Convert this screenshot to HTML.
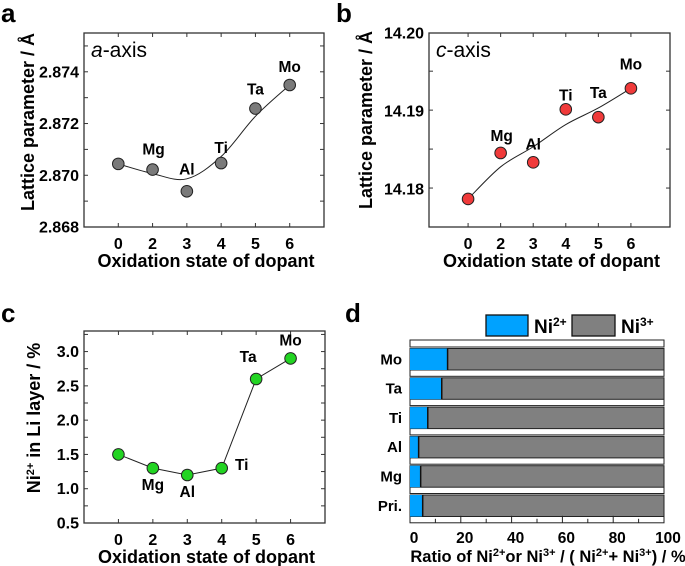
<!DOCTYPE html>
<html><head><meta charset="utf-8">
<style>
body{margin:0;background:#fff}
svg{display:block;font-family:"Liberation Sans",Arial,sans-serif;font-weight:bold}
</style></head>
<body>
<svg id="fig" width="685" height="566" viewBox="0 0 685 566" xmlns="http://www.w3.org/2000/svg"></svg>
<script>
const dopants = ["Pri.","Mg","Al","Ti","Ta","Mo"];
const xTickLabels = ["0","2","3","4","5","6"];
const aValues = [2.87044,2.87022,2.86938,2.87047,2.87258,2.87349];
const aTicks = [2.868,2.870,2.872,2.874];
const bValues = [14.1787,14.1846,14.1834,14.1902,14.1892,14.1929];
const bTicks = [14.18,14.19,14.20];
const cValues = [1.5,1.3,1.2,1.3,2.6,2.9];
const cTicks = [0.5,1.0,1.5,2.0,2.5,3.0];
const dCategories = ["Mo","Ta","Ti","Al","Mg","Pri."];
const dNi2 = [14.8,12.5,7.0,3.4,4.2,5.0];
const dTicks = [0,20,40,60,80,100];

const NS="http://www.w3.org/2000/svg";
const svg=document.getElementById('fig');
function el(tag,attrs,parent,text){
  const e=document.createElementNS(NS,tag);
  for(const k in attrs)e.setAttribute(k,attrs[k]);
  if(text!==undefined)e.textContent=text;
  (parent||svg).appendChild(e);return e;
}
function lin(d0,d1,r0,r1){return v=>r0+(v-d0)/(d1-d0)*(r1-r0);}
function smoothPath(pts){
  let d=`M${pts[0][0]},${pts[0][1]}`;
  for(let i=0;i<pts.length-1;i++){
    const p0=pts[Math.max(0,i-1)],p1=pts[i],p2=pts[i+1],p3=pts[Math.min(pts.length-1,i+2)];
    const c1=[p1[0]+(p2[0]-p0[0])/6,p1[1]+(p2[1]-p0[1])/6];
    const c2=[p2[0]-(p3[0]-p1[0])/6,p2[1]-(p3[1]-p1[1])/6];
    d+=` C${c1[0]},${c1[1]} ${c2[0]},${c2[1]} ${p2[0]},${p2[1]}`;
  }
  return d;
}
function smoothVals(v,w){return v.map((y,i)=>(i==0||i==v.length-1)?y:(w/2)*v[i-1]+(1-w)*y+(w/2)*v[i+1]);}

function linePanel(o){
  const g=el('g',{});
  
  
  const x=lin(o.xd[0],o.xd[1],o.box[0],o.box[2]);
  const y=lin(o.yd[0],o.yd[1],o.box[3],o.box[1]);
  const frame=el('rect',{x:o.box[0],y:o.box[1],width:o.box[2]-o.box[0],height:o.box[3]-o.box[1],fill:'none',stroke:'#333','stroke-width':1.3},g);
  
  for(let v=o.yd[0];v<=o.yd[1]+1e-9;v+=o.minor){
    const yy=y(v);
    el('line',{x1:o.box[0],x2:o.box[0]+4,y1:yy,y2:yy,stroke:'#333','stroke-width':1},g);
    el('line',{x1:o.box[2],x2:o.box[2]-4,y1:yy,y2:yy,stroke:'#333','stroke-width':1},g);
  }
  o.ticks.forEach(v=>{
    const t=el('text',{x:o.box[0]-5,y:y(v)+5.5,'text-anchor':'end','font-size':16},g,v.toFixed(o.dec));
    
  });
  xTickLabels.forEach((lab,i)=>{
    const xx=x(i);
    el('line',{x1:xx,x2:xx,y1:o.box[3],y2:o.box[3]-4,stroke:'#333'},g);
    el('line',{x1:xx,x2:xx,y1:o.box[1],y2:o.box[1]+4,stroke:'#333'},g);
    const t=el('text',{x:xx,y:o.box[3]+22,'text-anchor':'middle','font-size':16},g,lab);
    
  });
  const xt=el('text',{x:(o.box[0]+o.box[2])/2+2,y:o.box[3]+40,'text-anchor':'middle','font-size':18},g,'Oxidation state of dopant');
  
  const yt=el('text',{transform:`translate(${o.ytx},${o.yty}) rotate(-90)`,'text-anchor':'middle','font-size':18},g);
  
  yt.innerHTML=o.ytitle;
  const pts=o.vals.map((v,i)=>[x(i),y(v)]);
  const line=el('path',{d:o.smooth?smoothPath(smoothVals(o.vals,o.smooth).map((v,i)=>[x(i),y(v)])):'M'+pts.map(p=>p.join(',')).join(' L'),fill:'none',stroke:'#222','stroke-width':1},g);
  
  pts.forEach((p,i)=>{
    const c=el('circle',{cx:p[0],cy:p[1],r:5.8,fill:o.color,stroke:'#222','stroke-width':1},g);
    
    
    if(i>0){
      const off=o.lab[i]||[0,-12];
      const t=el('text',{x:p[0]+off[0],y:p[1]+off[1],'text-anchor':'middle','font-size':15.5},g,dopants[i]);
      
    }
  });
  if(o.tag){
    const t=el('text',{x:o.box[0]+7,y:o.box[1]+24,'font-size':21,'font-weight':'normal'},g);
    
    t.innerHTML=`<tspan font-style="italic">${o.tag}</tspan>-axis`;
  }
  const L=el('text',{x:o.letter[0],y:o.letter[1],'font-size':26},g,o.letterText);
  
}

linePanel({name:'panel-a',box:[84,33,324,227],xd:[-1,6],yd:[2.868,2.8755],minor:0.001,ticks:aTicks,dec:3,vals:aValues,smooth:0.5,color:'#7a7a7a',
  ytitle:'Lattice parameter / Å',ytx:34,yty:122,tag:'a',letter:[1,22],letterText:'a',
  lab:[[0,0],[1,-15],[0,-17],[0,-10],[0,-14],[0,-13]]});
linePanel({name:'panel-b',box:[429,33,670,227],xd:[-1.2,6.2],yd:[14.1751,14.2],minor:0.005,ticks:bTicks,dec:2,vals:bValues,smooth:0.5,color:'#f03a3a',
  ytitle:'Lattice parameter / Å',ytx:372,yty:120,tag:'c',letter:[336,22],letterText:'b',
  lab:[[0,0],[1,-12],[0,-13],[0,-9],[0,-19],[0,-19]]});
linePanel({name:'panel-c',box:[84,331,325,523],xd:[-1,6],yd:[0.5,3.3],minor:0.25,ticks:cTicks,dec:1,vals:cValues,smooth:0,color:'#22d422',
  ytitle:'Ni<tspan baseline-shift="super" font-size="11">2+</tspan> in Li layer / %',ytx:40,yty:418,letter:[1,322],letterText:'c',
  lab:[[0,0],[0,22],[0,22],[20,2],[-8,-17],[0,-13]]});

(function(){
  const g=el('g',{});
  
  const x0=410,x1=664,top=340,period=29.3;
  const x=lin(0,100,x0,x1);
  for(let i=0;i<=dCategories.length;i++){
    const wy=top+i*period;
    const w=el('rect',{x:x0,y:wy,width:x1-x0,height:7,fill:'#fff',stroke:'#222','stroke-width':1},g);
    
  }
  dCategories.forEach((c,i)=>{
    const by=top+i*period+8.5,bh=21.5;
    const gr=el('rect',{x:x0,y:by,width:x(100)-x0,height:bh,fill:'#808080',stroke:'#222','stroke-width':1},g);
    
    const bl=el('rect',{x:x0,y:by,width:x(dNi2[i])-x0,height:bh,fill:'#00a2ff',stroke:'none'},g);
    
    el('line',{x1:x(dNi2[i]),x2:x(dNi2[i]),y1:by,y2:by+bh,stroke:'#111','stroke-width':1.5},g);
    const t=el('text',{x:402,y:by+bh/2+5,'text-anchor':'end','font-size':15},g,c);
    
  });
  const bottom=top+dCategories.length*period+7;
  for(let v=10;v<100;v+=10){
    el('line',{x1:x(v),x2:x(v),y1:bottom,y2:bottom-(v%20==0?7:4),stroke:'#222'},g);
  }
  dTicks.forEach(v=>{
    const t=el('text',{x:x(v)+4,y:bottom+20,'text-anchor':'middle','font-size':15.5},g,String(v));
    
  });
  const xt=el('text',{x:548,y:bottom+39,'text-anchor':'middle','font-size':16.5},g);
  
  xt.innerHTML='Ratio of Ni<tspan baseline-shift="super" font-size="11">2+</tspan>or Ni<tspan baseline-shift="super" font-size="11">3+</tspan> / ( Ni<tspan baseline-shift="super" font-size="11">2+</tspan>+ Ni<tspan baseline-shift="super" font-size="11">3+</tspan>)  / %';
  const l1=el('rect',{x:486,y:315,width:42,height:21,fill:'#00a2ff',stroke:'#111','stroke-width':1.3},g);
  
  const t1=el('text',{x:534,y:333,'font-size':19},g);
  
  t1.innerHTML='Ni<tspan baseline-shift="super" font-size="12">2+</tspan>';
  const l2=el('rect',{x:572,y:315,width:43,height:21,fill:'#808080',stroke:'#111','stroke-width':1.3},g);
  
  const t2=el('text',{x:621,y:333,'font-size':19},g);
  
  t2.innerHTML='Ni<tspan baseline-shift="super" font-size="12">3+</tspan>';
  const L=el('text',{x:345,y:322,'font-size':26},g,'d');
  
})();
</script>
</body></html>
